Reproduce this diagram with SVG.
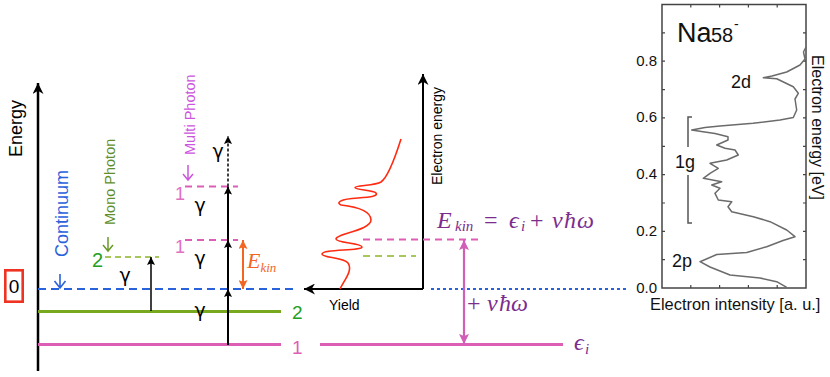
<svg xmlns="http://www.w3.org/2000/svg" width="830" height="377" viewBox="0 0 830 377">
<style>
.sans{font-family:"Liberation Sans",Arial,sans-serif}
.math{font-family:"Liberation Serif","DejaVu Serif",serif;font-style:italic}
.up{font-style:normal}
.g{font-family:"DejaVu Sans","Noto Sans",sans-serif;font-size:19px;fill:#000}
.plot{font-family:"Liberation Sans",Arial,sans-serif;fill:#111}
</style>
<defs>
<marker id="ahK" viewBox="0 0 10 10" refX="10" refY="5" markerWidth="8" markerHeight="8" markerUnits="userSpaceOnUse" orient="auto-start-reverse"><path d="M0,0 L10,5 L0,10 L2,5 z" fill="#000"/></marker>
<marker id="ahAxis" viewBox="0 0 10 10" refX="10" refY="5" markerWidth="11" markerHeight="11" markerUnits="userSpaceOnUse" orient="auto-start-reverse"><path d="M0,0 L10,5 L0,10 L3,5 z" fill="#000"/></marker>
<marker id="ahO" viewBox="0 0 10 10" refX="10" refY="5" markerWidth="9" markerHeight="9" markerUnits="userSpaceOnUse" orient="auto-start-reverse"><path d="M0,0 L10,5 L0,10 L2,5 z" fill="#f26522"/></marker>
<marker id="ahM" viewBox="0 0 10 10" refX="10" refY="5" markerWidth="10" markerHeight="10" markerUnits="userSpaceOnUse" orient="auto-start-reverse"><path d="M0,0 L10,5 L0,10 L2,5 z" fill="#d15fb8"/></marker>
</defs>

<!-- Left energy diagram -->
<g id="energy-axis">
<line x1="38" y1="371" x2="38" y2="83" stroke="#000" stroke-width="2.5" marker-end="url(#ahAxis)"/>
<text class="sans" font-size="18" transform="translate(21.5,157) rotate(-90)">Energy</text>
</g>
<g id="zero-label">
<rect x="5.3" y="270.3" width="17.4" height="31.4" fill="none" stroke="#ee3322" stroke-width="2.6"/>
<text class="sans" font-size="19" x="14" y="293" text-anchor="middle">0</text>
</g>
<g id="continuum">
<line x1="38" y1="289" x2="297" y2="289" stroke="#2a62dc" stroke-width="1.8" stroke-dasharray="8,5"/>
<text class="sans" font-size="18" fill="#2a62dc" transform="translate(68,257) rotate(-90)">Continuum</text>
<path d="M60,274 L60,288 M54.5,281 L60,288 L65.5,281" fill="none" stroke="#2a62dc" stroke-width="1.6"/>
</g>
<g id="level-2">
<line x1="38" y1="311.5" x2="281" y2="311.5" stroke="#78a81e" stroke-width="3"/>
<text class="sans" font-size="19" fill="#22a022" x="292" y="319">2</text>
</g>
<g id="level-1">
<line x1="38" y1="344.5" x2="281" y2="344.5" stroke="#dd5fb5" stroke-width="3"/>
<text class="sans" font-size="19" fill="#dd5fb5" x="292" y="354">1</text>
</g>
<g id="mono-photon">
<line x1="105" y1="257" x2="159" y2="257" stroke="#8ab428" stroke-width="1.6" stroke-dasharray="6,4"/>
<text class="sans" font-size="20" fill="#22a022" x="92" y="267">2</text>
<path d="M108,237 L108,251 M103,245 L108,251 L113,245" fill="none" stroke="#6a9a2a" stroke-width="1.5"/>
<text class="sans" font-size="14.5" fill="#5f8f2a" transform="translate(115,225) rotate(-90)">Mono Photon</text>
<line x1="151" y1="311" x2="151" y2="257" stroke="#000" stroke-width="1.5" marker-end="url(#ahK)"/>
<text class="g" x="125" y="282" text-anchor="middle">γ</text>
</g>
<g id="multi-photon">
<line x1="185" y1="186.5" x2="238" y2="186.5" stroke="#dd5fb5" stroke-width="1.8" stroke-dasharray="7,5"/>
<line x1="185" y1="240" x2="238" y2="240" stroke="#dd5fb5" stroke-width="1.8" stroke-dasharray="7,5"/>
<text class="sans" font-size="18" fill="#e070c0" x="175" y="200">1</text>
<text class="sans" font-size="18" fill="#e070c0" x="175" y="253">1</text>
<path d="M188,165 L188,180 M183,174 L188,180 L193,174" fill="none" stroke="#cc55dd" stroke-width="1.5"/>
<text class="sans" font-size="14.5" fill="#cc55dd" transform="translate(195,155) rotate(-90)">Multi Photon</text>
<line x1="228" y1="345" x2="228" y2="289" stroke="#000" stroke-width="2" marker-end="url(#ahK)"/>
<line x1="228" y1="289" x2="228" y2="240" stroke="#000" stroke-width="2" marker-end="url(#ahK)"/>
<line x1="228" y1="240" x2="228" y2="186.5" stroke="#000" stroke-width="2" marker-end="url(#ahK)"/>
<line x1="228" y1="186.5" x2="228" y2="136" stroke="#000" stroke-width="1.5" stroke-dasharray="3,2" marker-end="url(#ahK)"/>
<text class="g" x="218" y="158" text-anchor="middle">γ</text>
<text class="g" x="200" y="212" text-anchor="middle">γ</text>
<text class="g" x="200" y="265" text-anchor="middle">γ</text>
<text class="g" x="200" y="317" text-anchor="middle">γ</text>
</g>
<g id="ekin-arrow">
<line x1="243" y1="240" x2="243" y2="289" stroke="#f26522" stroke-width="2" marker-start="url(#ahO)" marker-end="url(#ahO)"/>
<text class="math" fill="#f26522" font-size="22" x="247" y="268">E<tspan font-size="13" y="272">kin</tspan></text>
</g>

<!-- Middle spectrum schematic -->
<g id="yield-plot">
<line x1="423" y1="289" x2="423" y2="74" stroke="#000" stroke-width="2" marker-end="url(#ahAxis)"/>
<line x1="423" y1="289" x2="304" y2="289" stroke="#000" stroke-width="2" marker-end="url(#ahAxis)"/>
<text class="sans" font-size="14" transform="translate(442,185) rotate(-90)">Electron energy</text>
<text class="sans" font-size="14" x="329" y="310">Yield</text>
<path d="M340,289 C345,279 353,270 348,263 C343,257 322,258 322,254 C322,249 362,251 362,247 C362,243 336,243 336,239 C336,234 371,230 371,220 C371,211 358,207 341,205 C336,203 339,199 358,198 C372,197 378,196 376,193 C373,190 355,190 355,187.5 C355,185 375,186 381,182 C388,177 395,158 401,139" fill="none" stroke="#ff2a10" stroke-width="1.6"/>
<line x1="363" y1="239.5" x2="482" y2="239.5" stroke="#dd5fb5" stroke-width="1.8" stroke-dasharray="7,5"/>
<line x1="363" y1="256" x2="416" y2="256" stroke="#8ab428" stroke-width="1.6" stroke-dasharray="7,5"/>
</g>
<g id="energy-relation">
<line x1="431" y1="289" x2="626" y2="289" stroke="#2a62dc" stroke-width="2" stroke-dasharray="3,3"/>
<line x1="320" y1="344.5" x2="563" y2="344.5" stroke="#dd5fb5" stroke-width="3"/>
<line x1="464" y1="240" x2="464" y2="344" stroke="#d15fb8" stroke-width="2.2" marker-start="url(#ahM)" marker-end="url(#ahM)"/>
<text class="math" fill="#7b2d8e" font-size="24" y="228"><tspan x="437">E</tspan><tspan font-size="15" x="455" y="231">kin</tspan><tspan class="up" x="484" y="228">=</tspan><tspan x="509">ϵ</tspan><tspan font-size="15" x="521" y="231">i</tspan><tspan class="up" x="530" y="228">+</tspan><tspan x="552">ν</tspan><tspan x="564">ħ</tspan><tspan x="577">ω</tspan></text>
<text class="math" fill="#7b2d8e" font-size="24" y="311"><tspan class="up" x="467">+</tspan><tspan x="487">ν</tspan><tspan x="499">ħ</tspan><tspan x="511">ω</tspan></text>
<text class="math" fill="#7b2d8e" font-size="24" y="350"><tspan x="574">ϵ</tspan><tspan font-size="15" x="585" y="354">i</tspan></text>
</g>

<!-- Right measured spectrum -->
<g id="na58-spectrum">
<rect x="662" y="4.5" width="144" height="283.5" fill="#fff" stroke="#444" stroke-width="1.5"/>
<path d="M662,259.7 h3 M662,231.3 h3 M662,203 h3 M662,174.6 h3 M662,146.3 h3 M662,117.9 h3 M662,89.6 h3 M662,61.2 h3 M662,32.9 h3 M806,259.7 h-3 M806,231.3 h-3 M806,203 h-3 M806,174.6 h-3 M806,146.3 h-3 M806,117.9 h-3 M806,89.6 h-3 M806,61.2 h-3 M806,32.9 h-3 M690.8,288 v-3 M719.6,288 v-3 M748.4,288 v-3 M777.2,288 v-3 M690.8,4.5 v3 M719.6,4.5 v3 M748.4,4.5 v3 M777.2,4.5 v3" stroke="#444" stroke-width="1.2" fill="none"/>
<polyline points="786.7,287.3 776.7,281.7 760,278 730,275 710,267 700,261.7 716.7,254.5 746.7,252.5 766.7,246.7 783,240.5 795,236.7 786.7,230 770,221.7 753.3,216.7 731.7,211.7 728,206.7 731.7,201.7 718.3,200 715,193.3 720,188.3 711.7,185 721.7,181.7 703.3,178.3 710,173.3 718.3,168.3 710,163.3 726.7,160 738.3,155 735,150 725,148.3 716.7,145 728,140 728,136.7 715,133.5 703,131.7 691.7,130 705,127.5 720,126 753,123.3 780,120 793.3,117.5 796.7,110 795,99 798.3,93.3 793.3,86.7 776.7,78.8 763.3,77.8 772,76 786.7,72 800,65 805,59 803.5,52 806,47" fill="none" stroke="#6b6b6b" stroke-width="1.5" stroke-linejoin="round"/>
<path d="M692,117 H688 V147 M688,175 V223 H692" fill="none" stroke="#555" stroke-width="1.5"/>
<text class="plot" font-size="27" x="677" y="42">Na</text>
<text class="plot" font-size="20" x="711" y="42">58</text>
<text class="plot" font-size="14" x="734" y="29">-</text>
<text class="plot" font-size="18" x="731" y="88">2d</text>
<text class="plot" font-size="18" x="675" y="168">1g</text>
<text class="plot" font-size="18" x="672" y="267">2p</text>
<g class="plot" font-size="15" text-anchor="end">
<text x="657" y="292.5">0.0</text>
<text x="657" y="235.8">0.2</text>
<text x="657" y="179.1">0.4</text>
<text x="657" y="122.4">0.6</text>
<text x="657" y="65.7">0.8</text>
</g>
<text class="plot" font-size="16" transform="translate(812,55) rotate(90)">Electron energy [eV]</text>
<text class="plot" font-size="16.4" x="650" y="310">Electron intensity [a. u.]</text>
</g>
</svg>
